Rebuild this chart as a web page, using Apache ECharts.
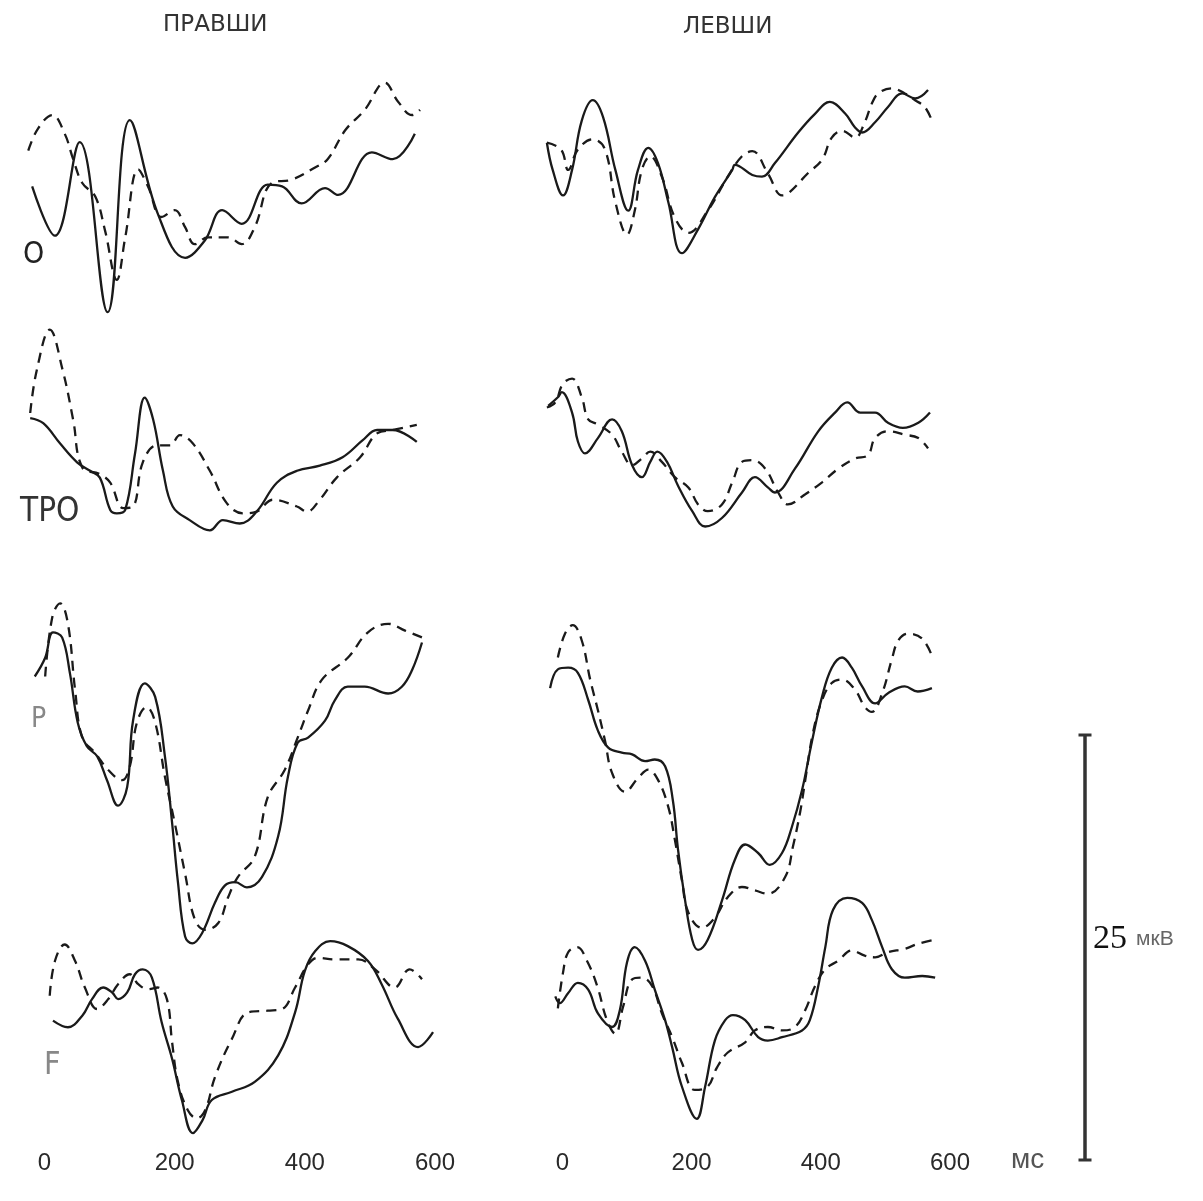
<!DOCTYPE html>
<html>
<head>
<meta charset="utf-8">
<script src="https://cdn.jsdelivr.net/npm/echarts@6/dist/echarts.min.js"></script>
<style>
  html, body { margin: 0; padding: 0; background: #fff; }
  #chart { width: 1203px; height: 1201px; }
</style>
</head>
<body>
<div id="chart"></div>
<script>
  /* подписи */
  var columnTitles = ['ПРАВШИ', 'ЛЕВШИ'];
  var leadNames = ['O', 'TPO', 'P', 'F'];
  var timeTicks = [0, 200, 400, 600];
  var scaleBar = [0, 25];   // мкВ

  /* ВП: [мс, мкВ], правши */
  var pravshi_O_solid = [[-19,0.8],[16,-2.1],[54,3.4],[97,-6.6],[131,4.7],[174,-0.8],[216,-3.4],[246,-2.4],[273,-0.6],[303,-1.4],[343,0.9],[365,0.8],[395,-0.2],[431,0.7],[451,0.3],[503,2.8],[535,2.4],[569,3.9]];
  var pravshi_O_dashed = [[-25,2.9],[-10,4.2],[12,5.0],[31,3.9],[44,2.4],[58,1.0],[78,0.2],[93,-1.8],[111,-4.7],[124,-2.2],[144,1.8],[159,0.8],[180,-1.0],[200,-0.6],[216,-1.6],[231,-2.6],[251,-2.2],[282,-2.2],[303,-2.6],[323,-1.6],[349,1.0],[380,1.2],[415,1.9],[435,2.4],[462,4.1],[492,5.3],[523,6.9],[543,5.8],[565,5.0],[577,5.3]];
  var pravshi_TPO_solid = [[-22,0.7],[-2,0.4],[24,-0.8],[50,-1.9],[70,-2.4],[85,-2.8],[101,-4.7],[111,-4.9],[124,-4.7],[139,-1.4],[154,1.9],[167,0.6],[182,-2.4],[197,-4.5],[223,-5.3],[254,-5.9],[274,-5.3],[300,-5.5],[326,-4.8],[357,-3.1],[388,-2.4],[423,-2.1],[458,-1.6],[489,-0.6],[511,0],[535,0],[572,-0.7]];
  var pravshi_TPO_dashed = [[-22,1.0],[-12,3.5],[8,5.9],[28,3.5],[44,0.6],[58,-2.2],[85,-2.6],[101,-3.1],[121,-4.6],[136,-4.5],[151,-1.9],[173,-0.9],[193,-0.9],[208,-0.3],[228,-0.8],[254,-2.4],[280,-4.3],[305,-4.9],[326,-4.8],[351,-4.1],[388,-4.5],[403,-4.8],[423,-4.1],[449,-2.8],[485,-1.6],[511,-0.2],[535,0],[572,0.3]];
  var pravshi_P_solid = [[-15,5.5],[1,6.6],[13,8.1],[27,7.8],[39,5.7],[51,2.8],[65,1.4],[81,0.8],[96,-0.6],[113,-2.1],[127,-1.0],[136,2.9],[154,5.1],[170,4.3],[185,0.8],[196,-3.1],[205,-6.6],[216,-9.8],[227,-10.2],[242,-9.6],[262,-7.8],[277,-6.8],[293,-6.6],[311,-6.9],[334,-6.3],[359,-3.9],[374,-0.4],[389,1.6],[405,1.9],[431,2.9],[446,4.1],[466,4.9],[492,4.9],[528,4.5],[549,4.9],[565,5.9],[580,7.5]];
  var pravshi_P_dashed = [[1,5.5],[12,9.0],[24,9.8],[36,8.6],[47,4.7],[58,1.9],[78,1.0],[98,0],[119,-0.6],[131,0.2],[142,2.8],[157,3.7],[170,2.8],[185,-0.4],[200,-3.1],[216,-6.1],[231,-8.8],[247,-9.4],[267,-9.0],[282,-7.5],[297,-6.3],[323,-5.1],[343,-1.6],[369,0],[389,1.9],[405,3.5],[426,5.3],[466,6.6],[497,8.1],[528,8.6],[554,8.2],[580,7.8]];
  var pravshi_F_solid = [[13,0.9],[36,0.5],[58,1.2],[73,2.2],[90,2.9],[104,2.6],[113,2.2],[127,2.6],[139,3.7],[151,4.0],[165,3.5],[180,0.8],[196,-1.4],[211,-3.9],[228,-5.9],[243,-5.1],[257,-3.9],[288,-3.4],[323,-2.8],[359,-1.2],[385,1.4],[400,3.9],[416,5.1],[439,5.7],[466,5.4],[497,4.5],[518,3.1],[543,1.0],[574,-0.7],[597,0.2]];
  var pravshi_F_dashed = [[8,2.4],[16,4.5],[31,5.5],[47,4.5],[62,2.9],[81,1.6],[98,2.2],[113,3.1],[131,3.7],[144,3.1],[159,2.8],[174,2.9],[188,2.2],[196,-0.4],[205,-2.8],[220,-4.5],[234,-5.0],[247,-4.5],[262,-2.5],[288,-0.2],[313,1.4],[343,1.5],[365,1.6],[385,2.9],[405,4.3],[420,4.7],[446,4.6],[482,4.6],[508,4.0],[538,2.9],[561,4.0],[580,3.4]];

  /* ВП: [мс, мкВ], левши */
  var levshi_O_solid = [[-24,1.9],[-15,0.3],[1,-1.2],[15,0.3],[30,3.2],[47,4.4],[63,3.4],[82,0.3],[102,-2.1],[117,0.3],[133,1.6],[148,0.7],[164,-1.6],[185,-4.6],[210,-3.2],[236,-1.3],[263,0.3],[267,0.6],[294,0],[309,-0.1],[329,0.7],[365,2.5],[391,3.6],[414,4.3],[438,3.6],[453,2.8],[464,2.5],[484,3.1],[504,4.0],[526,4.8],[546,4.5],[566,5.0]];
  var levshi_O_dashed = [[-24,1.9],[-2,1.5],[9,0.3],[24,1.5],[47,2.1],[66,1.5],[82,-1.6],[100,-3.5],[112,-2.1],[123,0.3],[136,1.1],[154,-0.1],[174,-2.5],[195,-3.4],[225,-2.1],[256,-0.1],[278,1.1],[294,1.4],[318,0.1],[340,-1.2],[349,-1.1],[380,0.1],[402,0.9],[417,2.2],[433,2.6],[453,2.2],[468,3.1],[479,4.2],[489,4.8],[510,5.1],[530,4.8],[546,4.4],[561,4.0],[572,3.2]];
  var levshi_TPO_solid = [[-22,2.6],[-7,3.1],[-1,3.4],[15,2.2],[24,0.5],[35,-0.2],[55,0.7],[77,1.8],[92,1.1],[108,-0.9],[123,-1.6],[136,-0.7],[147,-0.1],[162,-0.7],[179,-2.1],[201,-3.6],[221,-4.5],[247,-4.0],[278,-2.5],[298,-1.6],[318,-2.2],[329,-2.5],[360,-1.1],[396,1.1],[422,2.2],[441,2.8],[461,2.2],[484,2.2],[504,1.6],[527,1.3],[551,1.6],[569,2.2]];
  var levshi_TPO_dashed = [[-24,2.5],[-11,2.8],[1,3.9],[15,4.2],[30,3.1],[40,1.8],[55,1.5],[77,0.9],[92,-0.1],[108,-0.9],[123,-0.5],[136,-0.1],[154,-0.7],[174,-1.6],[195,-2.2],[210,-3.2],[225,-3.6],[247,-3.2],[263,-1.9],[278,-0.7],[294,-0.6],[314,-1.1],[334,-2.5],[349,-3.2],[376,-2.6],[402,-1.9],[427,-1.1],[453,-0.5],[473,-0.3],[484,0.7],[504,1.1],[530,0.9],[551,0.7],[566,0.1]];
  var levshi_P_solid = [[-19,5.7],[-7,6.8],[9,6.9],[24,6.6],[40,5.0],[55,3.2],[71,2.2],[92,1.9],[108,1.8],[128,1.4],[143,1.5],[159,1.1],[171,-0.9],[179,-3.8],[190,-6.8],[201,-9.1],[210,-9.7],[225,-9.1],[247,-6.8],[267,-4.4],[283,-3.5],[303,-4.0],[321,-4.7],[340,-4.0],[355,-2.5],[371,-0.3],[386,2.5],[402,5.2],[417,6.9],[433,7.5],[448,6.9],[464,5.8],[484,4.8],[504,5.4],[530,5.8],[550,5.5],[572,5.7]];
  var levshi_P_dashed = [[-7,7.5],[4,8.9],[16,9.4],[30,8.5],[43,6.2],[55,4.4],[66,2.6],[77,0.7],[97,-0.4],[117,0.4],[133,0.9],[148,0.3],[164,-1.3],[174,-3.2],[185,-5.6],[195,-7.5],[216,-8.4],[236,-7.8],[256,-6.6],[278,-6.0],[298,-6.2],[318,-6.4],[345,-5.4],[357,-3.6],[368,-1.6],[376,0.3],[388,3.1],[402,5.0],[417,6.0],[433,6.2],[453,5.6],[468,4.6],[479,4.3],[495,5.4],[510,7.4],[520,8.5],[535,8.9],[557,8.6],[574,7.4]];
  var levshi_F_solid = [[-11,0.8],[-4,0.4],[9,1.0],[24,1.6],[40,1.2],[55,-0.2],[77,-1.0],[89,0],[100,2.8],[112,3.7],[128,2.9],[143,1.2],[159,-0.6],[170,-2.2],[185,-4.5],[208,-6.4],[221,-4.5],[236,-1.8],[252,-0.6],[264,-0.3],[283,-0.6],[303,-1.6],[318,-1.8],[340,-1.6],[371,-1.2],[383,-0.6],[396,1.4],[407,3.7],[419,5.9],[441,6.6],[464,6.3],[479,5.3],[495,3.7],[510,2.4],[530,1.9],[557,2.0],[577,1.9]];
  var levshi_F_dashed = [[-7,0.1],[1,2.2],[9,3.4],[23,3.7],[38,2.9],[54,1.4],[69,-0.6],[82,-1.4],[94,0.2],[108,1.8],[123,1.9],[139,1.4],[154,-0.2],[170,-1.6],[185,-3.1],[205,-4.7],[225,-4.5],[239,-3.4],[256,-2.5],[283,-1.9],[298,-1.2],[318,-1.0],[340,-1.2],[360,-1.0],[376,0],[391,1.4],[407,2.4],[427,2.9],[448,3.5],[468,3.2],[484,3.1],[504,3.4],[530,3.6],[551,3.9],[572,4.1]];

  var waves = [
    [[pravshi_O_solid, pravshi_O_dashed], [pravshi_TPO_solid, pravshi_TPO_dashed],
     [pravshi_P_solid, pravshi_P_dashed], [pravshi_F_solid, pravshi_F_dashed]],
    [[levshi_O_solid, levshi_O_dashed], [levshi_TPO_solid, levshi_TPO_dashed],
     [levshi_P_solid, levshi_P_dashed], [levshi_F_solid, levshi_F_dashed]]
  ];

  /* раскладка: 17 px на мкВ */
  var colBox = [{left: 25, width: 410}, {left: 543, width: 407}];
  var rowZero = [[200, 430, 770, 1040], [175, 450, 785, 1010]];
  var pxPerMs = [410 / 630, 407 / 630];

  var grids = [], xAxes = [], yAxes = [], series = [];
  for (var c = 0; c < 2; c++) {
    for (var r = 0; r < 4; r++) {
      var gi = grids.length;
      grids.push({left: colBox[c].left, width: colBox[c].width, top: rowZero[c][r] - 170, height: 340});
      xAxes.push({gridIndex: gi, type: 'value', min: -30, max: 600, show: false});
      yAxes.push({gridIndex: gi, type: 'value', min: -10, max: 10, show: false});
      series.push({
        type: 'line', xAxisIndex: gi, yAxisIndex: gi, data: waves[c][r][0],
        smooth: 0.4, symbol: 'none', clip: false, silent: true,
        lineStyle: {color: '#1a1a1a', width: 2.3}
      });
      series.push({
        type: 'line', xAxisIndex: gi, yAxisIndex: gi, data: waves[c][r][1],
        smooth: 0.4, symbol: 'none', clip: false, silent: true,
        lineStyle: {color: '#1a1a1a', width: 2.3, type: [10, 7]}
      });
    }
  }

  /* оси времени */
  for (c = 0; c < 2; c++) {
    gi = grids.length;
    grids.push({left: colBox[c].left + 30 * pxPerMs[c], width: 600 * pxPerMs[c], top: 1100, height: 48});
    xAxes.push({
      gridIndex: gi, type: 'value', min: 0, max: 600, interval: 200,
      axisLine: {show: false}, axisTick: {show: false}, splitLine: {show: false},
      axisLabel: {fontSize: 24, color: '#2a2a2a', margin: 3, fontFamily: 'Liberation Sans'}
    });
    yAxes.push({gridIndex: gi, type: 'value', show: false});
  }

  /* масштаб 25 мкВ */
  gi = grids.length;
  grids.push({left: 1080, width: 10, top: 735, height: 425});
  xAxes.push({gridIndex: gi, type: 'value', min: -1, max: 1, show: false});
  yAxes.push({gridIndex: gi, type: 'value', min: 0, max: 25, show: false});
  series.push({
    type: 'line', xAxisIndex: gi, yAxisIndex: gi,
    data: scaleBar.map(function (v) { return [0, v]; }),
    symbol: 'rect', symbolSize: [13, 3], silent: true,
    itemStyle: {color: '#333'},
    lineStyle: {color: '#333', width: 3.5}
  });

  var leadLabelStyle = [
    {x: 23, y: 240, size: 30, color: '#222'},
    {x: 20, y: 496, size: 33, color: '#333'},
    {x: 31, y: 706, size: 28, color: '#888'},
    {x: 44, y: 1050, size: 32, color: '#888'}
  ];

  var graphics = [];
  graphics.push({type: 'text', left: 163, top: 14, style: {text: columnTitles[0], fontSize: 23, fill: '#333', fontFamily: 'DejaVu Sans'}});
  graphics.push({type: 'text', left: 683, top: 16, style: {text: columnTitles[1], fontSize: 23, fill: '#333', fontFamily: 'DejaVu Sans'}});
  leadNames.forEach(function (name, i) {
    var s = leadLabelStyle[i];
    graphics.push({type: 'text', left: s.x, top: s.y, style: {text: name, fontSize: s.size, fill: s.color, fontFamily: 'DejaVu Sans Condensed'}});
  });
  graphics.push({type: 'text', left: 1011, top: 1146, style: {text: 'мс', fontSize: 28, fill: '#555', fontFamily: 'Liberation Sans'}});
  graphics.push({type: 'text', left: 1093, top: 922, style: {text: String(scaleBar[1]), fontSize: 34, fill: '#111', fontFamily: 'Liberation Serif'}});
  graphics.push({type: 'text', left: 1136, top: 929, style: {text: 'мкВ', fontSize: 21, fill: '#666', fontFamily: 'Liberation Sans'}});

  var chart = echarts.init(document.getElementById('chart'));
  chart.setOption({
    backgroundColor: '#fff',
    animation: false,
    grid: grids,
    xAxis: xAxes,
    yAxis: yAxes,
    series: series,
    graphic: graphics
  });
</script>
</body>
</html>
